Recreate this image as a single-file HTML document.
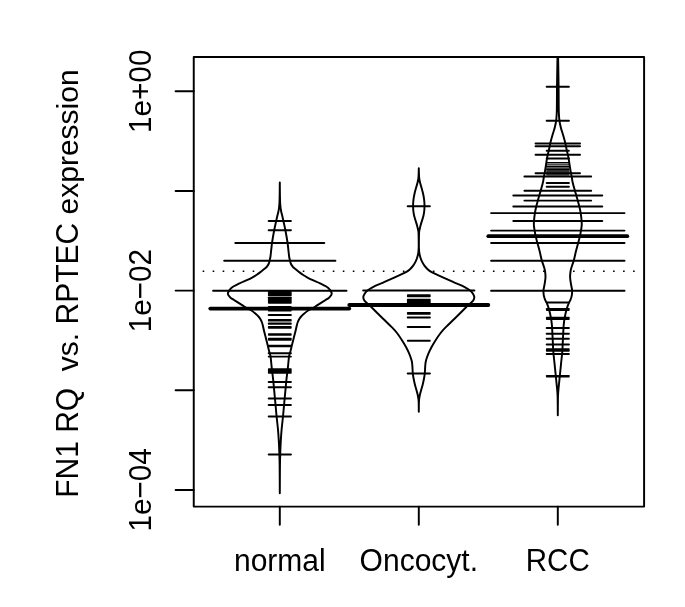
<!DOCTYPE html>
<html><head><meta charset="utf-8"><title>beanplot</title>
<style>html,body{margin:0;padding:0;background:#fff}svg{display:block;will-change:transform}</style></head>
<body>
<svg width="685" height="607" viewBox="0 0 685 607">
<rect width="685" height="607" fill="#fff"/>
<defs><clipPath id="c"><rect x="193.75" y="56.90" width="450.35" height="449.70"/></clipPath></defs>
<g clip-path="url(#c)" stroke="#000" fill="none" stroke-linecap="round" stroke-linejoin="round">
<line x1="202.65" y1="271.2" x2="636" y2="271.2" stroke-width="1.6" stroke-dasharray="1.6 8.41" stroke-linecap="butt"/>
<path d="M279.80 182.40 C279.82 184.50 279.86 191.57 279.92 195.00 C279.98 198.43 280.04 200.83 280.15 203.00 C280.26 205.17 280.41 206.50 280.60 208.00 C280.79 209.50 281.02 210.67 281.30 212.00 C281.58 213.33 281.95 214.52 282.30 216.00 C282.65 217.48 282.87 218.45 283.40 220.90 C283.93 223.35 284.82 227.12 285.50 230.70 C286.18 234.28 286.98 238.85 287.50 242.40 C288.02 245.95 288.32 249.57 288.60 252.00 C288.88 254.43 288.97 255.58 289.20 257.00 C289.43 258.42 289.73 259.42 290.00 260.50 C290.27 261.58 290.40 262.55 290.80 263.50 C291.20 264.45 291.85 265.45 292.40 266.20 C292.95 266.95 293.00 267.05 294.10 268.00 C295.20 268.95 297.48 270.73 299.00 271.90 C300.52 273.07 301.78 274.05 303.20 275.00 C304.62 275.95 305.90 276.73 307.50 277.60 C309.10 278.47 310.70 279.23 312.80 280.20 C314.90 281.17 317.52 282.12 320.10 283.40 C322.68 284.68 326.38 286.32 328.30 287.90 C330.22 289.48 331.17 291.62 331.60 292.90 C332.03 294.18 331.37 294.77 330.90 295.60 C330.43 296.43 329.75 297.13 328.80 297.90 C327.85 298.67 326.43 299.42 325.20 300.20 C323.97 300.98 322.77 301.73 321.40 302.60 C320.03 303.47 318.45 304.47 317.00 305.40 C315.55 306.33 314.12 307.38 312.70 308.20 C311.28 309.02 310.05 309.28 308.50 310.30 C306.95 311.32 304.70 313.18 303.40 314.30 C302.10 315.42 301.43 316.13 300.70 317.00 C299.97 317.87 299.48 318.67 299.00 319.50 C298.52 320.33 298.15 321.10 297.80 322.00 C297.45 322.90 297.27 323.45 296.90 324.90 C296.53 326.35 296.07 328.75 295.60 330.70 C295.13 332.65 294.60 334.65 294.10 336.60 C293.60 338.55 293.08 340.47 292.60 342.40 C292.12 344.33 291.68 346.27 291.20 348.20 C290.72 350.13 290.07 352.58 289.70 354.00 C289.33 355.42 289.32 354.30 289.00 356.70 C288.68 359.10 288.23 364.52 287.80 368.40 C287.37 372.28 286.82 376.12 286.40 380.00 C285.98 383.88 285.67 387.80 285.30 391.70 C284.93 395.60 284.58 399.27 284.20 403.40 C283.82 407.53 283.43 412.13 283.00 416.50 C282.57 420.87 281.96 425.68 281.60 429.60 C281.24 433.52 281.07 436.27 280.85 440.00 C280.63 443.73 280.45 447.67 280.30 452.00 C280.15 456.33 280.03 459.13 279.95 466.00 C279.87 472.87 279.82 488.67 279.80 493.20 L279.80 493.20 C279.78 488.67 279.73 472.87 279.65 466.00 C279.57 459.13 279.45 456.33 279.30 452.00 C279.15 447.67 278.97 443.73 278.75 440.00 C278.53 436.27 278.36 433.52 278.00 429.60 C277.64 425.68 277.03 420.87 276.60 416.50 C276.17 412.13 275.78 407.53 275.40 403.40 C275.02 399.27 274.67 395.60 274.30 391.70 C273.93 387.80 273.62 383.88 273.20 380.00 C272.78 376.12 272.23 372.28 271.80 368.40 C271.37 364.52 270.92 359.10 270.60 356.70 C270.28 354.30 270.27 355.42 269.90 354.00 C269.53 352.58 268.88 350.13 268.40 348.20 C267.92 346.27 267.48 344.33 267.00 342.40 C266.52 340.47 266.00 338.55 265.50 336.60 C265.00 334.65 264.47 332.65 264.00 330.70 C263.53 328.75 263.07 326.35 262.70 324.90 C262.33 323.45 262.15 322.90 261.80 322.00 C261.45 321.10 261.08 320.33 260.60 319.50 C260.12 318.67 259.63 317.87 258.90 317.00 C258.17 316.13 257.50 315.42 256.20 314.30 C254.90 313.18 252.65 311.32 251.10 310.30 C249.55 309.28 248.32 309.02 246.90 308.20 C245.48 307.38 244.05 306.33 242.60 305.40 C241.15 304.47 239.57 303.47 238.20 302.60 C236.83 301.73 235.63 300.98 234.40 300.20 C233.17 299.42 231.75 298.67 230.80 297.90 C229.85 297.13 229.17 296.43 228.70 295.60 C228.23 294.77 227.57 294.18 228.00 292.90 C228.43 291.62 229.38 289.48 231.30 287.90 C233.22 286.32 236.92 284.68 239.50 283.40 C242.08 282.12 244.70 281.17 246.80 280.20 C248.90 279.23 250.50 278.47 252.10 277.60 C253.70 276.73 254.98 275.95 256.40 275.00 C257.82 274.05 259.08 273.07 260.60 271.90 C262.12 270.73 264.40 268.95 265.50 268.00 C266.60 267.05 266.65 266.95 267.20 266.20 C267.75 265.45 268.40 264.45 268.80 263.50 C269.20 262.55 269.33 261.58 269.60 260.50 C269.87 259.42 270.17 258.42 270.40 257.00 C270.63 255.58 270.72 254.43 271.00 252.00 C271.28 249.57 271.58 245.95 272.10 242.40 C272.62 238.85 273.42 234.28 274.10 230.70 C274.78 227.12 275.67 223.35 276.20 220.90 C276.73 218.45 276.95 217.48 277.30 216.00 C277.65 214.52 278.02 213.33 278.30 212.00 C278.58 210.67 278.81 209.50 279.00 208.00 C279.19 206.50 279.34 205.17 279.45 203.00 C279.56 200.83 279.62 198.43 279.68 195.00 C279.74 191.57 279.78 184.50 279.80 182.40 Z" fill="#fff" stroke-width="1.95"/>
<line x1="268.68" y1="220.90" x2="290.92" y2="220.90" stroke-width="1.95"/>
<line x1="268.68" y1="230.30" x2="290.92" y2="230.30" stroke-width="1.95"/>
<line x1="235.32" y1="243.00" x2="324.28" y2="243.00" stroke-width="1.95"/>
<line x1="224.20" y1="260.70" x2="335.40" y2="260.70" stroke-width="1.95"/>
<line x1="213.08" y1="290.75" x2="346.52" y2="290.75" stroke-width="1.95"/>
<rect x="267.93" y="291.10" width="23.74" height="5.10" rx="0.7" fill="#000" stroke="none"/>
<rect x="267.93" y="296.65" width="23.74" height="7.10" rx="0.7" fill="#000" stroke="none"/>
<rect x="267.93" y="306.10" width="23.74" height="5.40" rx="0.7" fill="#000" stroke="none"/>
<line x1="268.68" y1="315.00" x2="290.92" y2="315.00" stroke-width="1.95"/>
<rect x="267.93" y="319.10" width="23.74" height="2.50" rx="0.7" fill="#000" stroke="none"/>
<rect x="267.93" y="322.55" width="23.74" height="2.30" rx="0.7" fill="#000" stroke="none"/>
<rect x="267.93" y="326.10" width="23.74" height="2.70" rx="0.7" fill="#000" stroke="none"/>
<rect x="267.93" y="333.35" width="23.74" height="2.40" rx="0.7" fill="#000" stroke="none"/>
<rect x="267.93" y="337.85" width="23.74" height="2.90" rx="0.7" fill="#000" stroke="none"/>
<rect x="267.93" y="344.70" width="23.74" height="2.60" rx="0.7" fill="#000" stroke="none"/>
<line x1="268.68" y1="353.20" x2="290.92" y2="353.20" stroke-width="1.95"/>
<line x1="268.68" y1="356.60" x2="290.92" y2="356.60" stroke-width="1.95"/>
<rect x="267.93" y="368.20" width="23.74" height="5.60" rx="0.7" fill="#000" stroke="none"/>
<line x1="268.68" y1="382.00" x2="290.92" y2="382.00" stroke-width="1.95"/>
<line x1="268.68" y1="387.20" x2="290.92" y2="387.20" stroke-width="1.95"/>
<line x1="268.68" y1="398.50" x2="290.92" y2="398.50" stroke-width="1.95"/>
<line x1="268.68" y1="405.00" x2="290.92" y2="405.00" stroke-width="1.95"/>
<line x1="268.68" y1="416.50" x2="290.92" y2="416.50" stroke-width="1.95"/>
<line x1="268.68" y1="454.40" x2="290.92" y2="454.40" stroke-width="1.95"/>
<line x1="210.30" y1="308.60" x2="349.30" y2="308.60" stroke-width="3.8"/>
<path d="M418.80 168.20 C418.82 169.17 418.87 172.20 418.95 174.00 C419.03 175.80 419.07 177.42 419.30 179.00 C419.53 180.58 419.92 182.00 420.30 183.50 C420.68 185.00 421.18 186.50 421.60 188.00 C422.02 189.50 422.43 190.93 422.80 192.50 C423.17 194.07 423.54 195.82 423.80 197.40 C424.06 198.98 424.23 200.52 424.35 202.00 C424.47 203.48 424.52 204.80 424.50 206.30 C424.48 207.80 424.43 209.38 424.25 211.00 C424.07 212.62 423.77 214.42 423.40 216.00 C423.03 217.58 422.53 218.93 422.05 220.50 C421.57 222.07 420.94 223.98 420.55 225.40 C420.16 226.82 419.94 227.82 419.70 229.00 C419.46 230.18 419.23 230.67 419.10 232.50 C418.97 234.33 418.95 237.42 418.92 240.00 C418.89 242.58 418.84 245.77 418.92 248.00 C419.00 250.23 419.15 251.82 419.40 253.40 C419.65 254.98 419.98 256.17 420.40 257.50 C420.82 258.83 421.23 260.05 421.90 261.40 C422.57 262.75 423.45 264.30 424.40 265.60 C425.35 266.90 426.47 268.17 427.60 269.20 C428.73 270.23 429.73 270.93 431.20 271.80 C432.67 272.67 433.88 273.23 436.40 274.40 C438.92 275.57 443.20 277.40 446.30 278.80 C449.40 280.20 452.32 281.63 455.00 282.80 C457.68 283.97 459.93 284.55 462.40 285.80 C464.87 287.05 468.02 288.93 469.80 290.30 C471.58 291.67 472.35 292.78 473.10 294.00 C473.85 295.22 474.32 296.45 474.30 297.60 C474.28 298.75 473.92 299.73 473.00 300.90 C472.08 302.07 470.95 302.53 468.80 304.60 C466.65 306.67 462.67 310.77 460.10 313.30 C457.53 315.83 455.73 317.53 453.40 319.80 C451.07 322.07 448.23 324.70 446.10 326.90 C443.97 329.10 442.40 330.70 440.60 333.00 C438.80 335.30 436.80 338.37 435.30 340.70 C433.80 343.03 432.72 344.92 431.60 347.00 C430.48 349.08 429.50 351.07 428.60 353.20 C427.70 355.33 426.73 358.00 426.20 359.80 C425.67 361.60 425.59 362.47 425.40 364.00 C425.21 365.53 425.15 367.43 425.05 369.00 C424.95 370.57 424.96 371.90 424.80 373.40 C424.64 374.90 424.42 376.28 424.10 378.00 C423.78 379.72 423.32 381.95 422.90 383.70 C422.48 385.45 422.05 386.85 421.60 388.50 C421.15 390.15 420.58 392.02 420.20 393.60 C419.82 395.18 419.51 396.60 419.30 398.00 C419.09 399.40 419.00 399.70 418.92 402.00 C418.84 404.30 418.82 410.17 418.80 411.80 L418.80 411.80 C418.78 410.17 418.76 404.30 418.68 402.00 C418.60 399.70 418.51 399.40 418.30 398.00 C418.09 396.60 417.78 395.18 417.40 393.60 C417.02 392.02 416.45 390.15 416.00 388.50 C415.55 386.85 415.12 385.45 414.70 383.70 C414.28 381.95 413.82 379.72 413.50 378.00 C413.18 376.28 412.96 374.90 412.80 373.40 C412.64 371.90 412.65 370.57 412.55 369.00 C412.45 367.43 412.39 365.53 412.20 364.00 C412.01 362.47 411.93 361.60 411.40 359.80 C410.87 358.00 409.90 355.33 409.00 353.20 C408.10 351.07 407.12 349.08 406.00 347.00 C404.88 344.92 403.80 343.03 402.30 340.70 C400.80 338.37 398.80 335.30 397.00 333.00 C395.20 330.70 393.63 329.10 391.50 326.90 C389.37 324.70 386.53 322.07 384.20 319.80 C381.87 317.53 380.07 315.83 377.50 313.30 C374.93 310.77 370.95 306.67 368.80 304.60 C366.65 302.53 365.52 302.07 364.60 300.90 C363.68 299.73 363.32 298.75 363.30 297.60 C363.28 296.45 363.75 295.22 364.50 294.00 C365.25 292.78 366.02 291.67 367.80 290.30 C369.58 288.93 372.73 287.05 375.20 285.80 C377.67 284.55 379.92 283.97 382.60 282.80 C385.28 281.63 388.20 280.20 391.30 278.80 C394.40 277.40 398.68 275.57 401.20 274.40 C403.72 273.23 404.93 272.67 406.40 271.80 C407.87 270.93 408.87 270.23 410.00 269.20 C411.13 268.17 412.25 266.90 413.20 265.60 C414.15 264.30 415.03 262.75 415.70 261.40 C416.37 260.05 416.78 258.83 417.20 257.50 C417.62 256.17 417.95 254.98 418.20 253.40 C418.45 251.82 418.60 250.23 418.68 248.00 C418.76 245.77 418.71 242.58 418.68 240.00 C418.65 237.42 418.63 234.33 418.50 232.50 C418.37 230.67 418.14 230.18 417.90 229.00 C417.66 227.82 417.44 226.82 417.05 225.40 C416.66 223.98 416.03 222.07 415.55 220.50 C415.07 218.93 414.57 217.58 414.20 216.00 C413.83 214.42 413.53 212.62 413.35 211.00 C413.17 209.38 413.12 207.80 413.10 206.30 C413.08 204.80 413.13 203.48 413.25 202.00 C413.37 200.52 413.54 198.98 413.80 197.40 C414.06 195.82 414.43 194.07 414.80 192.50 C415.17 190.93 415.58 189.50 416.00 188.00 C416.42 186.50 416.92 185.00 417.30 183.50 C417.68 182.00 418.07 180.58 418.30 179.00 C418.53 177.42 418.57 175.80 418.65 174.00 C418.73 172.20 418.78 169.17 418.80 168.20 Z" fill="#fff" stroke-width="1.95"/>
<line x1="407.68" y1="206.30" x2="429.92" y2="206.30" stroke-width="1.95"/>
<line x1="363.20" y1="290.55" x2="474.40" y2="290.55" stroke-width="1.95"/>
<rect x="406.93" y="294.20" width="23.74" height="3.00" rx="0.7" fill="#000" stroke="none"/>
<rect x="406.93" y="298.85" width="23.74" height="5.70" rx="0.7" fill="#000" stroke="none"/>
<rect x="406.93" y="312.00" width="23.74" height="2.80" rx="0.7" fill="#000" stroke="none"/>
<line x1="407.68" y1="317.50" x2="429.92" y2="317.50" stroke-width="1.95"/>
<line x1="407.68" y1="326.90" x2="429.92" y2="326.90" stroke-width="1.95"/>
<rect x="406.93" y="339.70" width="23.74" height="2.00" rx="0.7" fill="#000" stroke="none"/>
<line x1="407.68" y1="373.40" x2="429.92" y2="373.40" stroke-width="1.95"/>
<line x1="349.30" y1="305.00" x2="488.30" y2="305.00" stroke-width="3.8"/>
<path d="M557.80 45.00 C557.85 47.00 557.97 50.05 558.10 57.00 C558.23 63.95 558.50 78.70 558.60 86.70 C558.70 94.70 558.66 100.62 558.70 105.00 C558.74 109.38 558.72 110.37 558.85 113.00 C558.97 115.63 559.14 118.47 559.45 120.80 C559.76 123.13 560.26 125.17 560.70 127.00 C561.14 128.83 561.70 130.47 562.10 131.80 C562.50 133.13 562.55 133.07 563.10 135.00 C563.65 136.93 564.92 141.45 565.40 143.40 C565.88 145.35 565.58 144.75 566.00 146.70 C566.42 148.65 567.47 153.15 567.90 155.10 C568.33 157.05 568.27 156.45 568.60 158.40 C568.93 160.35 569.60 164.87 569.90 166.80 C570.20 168.73 570.05 168.05 570.40 170.00 C570.75 171.95 571.65 176.55 572.00 178.50 C572.35 180.45 572.05 179.78 572.50 181.70 C572.95 183.62 574.17 188.05 574.70 190.00 C575.23 191.95 575.45 192.57 575.70 193.40 C575.95 194.23 575.85 193.77 576.20 195.00 C576.55 196.23 577.27 198.85 577.80 200.80 C578.33 202.75 578.92 204.65 579.40 206.70 C579.88 208.75 580.33 210.73 580.70 213.10 C581.07 215.47 581.43 218.85 581.60 220.90 C581.77 222.95 581.80 223.82 581.70 225.40 C581.60 226.98 581.28 228.65 581.00 230.40 C580.72 232.15 580.47 233.82 580.00 235.90 C579.53 237.98 578.87 240.37 578.20 242.90 C577.53 245.43 576.52 249.08 576.00 251.10 C575.48 253.12 575.47 253.43 575.10 255.00 C574.73 256.57 574.37 258.55 573.80 260.50 C573.23 262.45 572.23 264.95 571.70 266.70 C571.17 268.45 570.87 269.25 570.60 271.00 C570.33 272.75 570.03 275.00 570.10 277.20 C570.17 279.40 570.67 282.00 571.00 284.20 C571.33 286.40 571.98 288.45 572.10 290.40 C572.22 292.35 571.98 294.30 571.70 295.90 C571.42 297.50 570.87 298.83 570.40 300.00 C569.93 301.17 569.53 301.35 568.90 302.90 C568.27 304.45 567.32 306.73 566.60 309.30 C565.88 311.87 565.08 315.68 564.60 318.30 C564.12 320.92 563.90 323.12 563.70 325.00 C563.50 326.88 563.53 327.18 563.40 329.60 C563.27 332.02 563.08 335.87 562.90 339.50 C562.72 343.13 562.60 347.45 562.30 351.40 C562.00 355.35 561.52 359.10 561.10 363.20 C560.68 367.30 560.13 372.70 559.80 376.00 C559.47 379.30 559.32 380.85 559.10 383.00 C558.88 385.15 558.67 387.07 558.50 388.90 C558.33 390.73 558.20 392.15 558.10 394.00 C558.00 395.85 557.97 396.47 557.92 400.00 C557.87 403.53 557.82 412.67 557.80 415.20 L557.80 415.20 C557.78 412.67 557.73 403.53 557.68 400.00 C557.63 396.47 557.60 395.85 557.50 394.00 C557.40 392.15 557.27 390.73 557.10 388.90 C556.93 387.07 556.72 385.15 556.50 383.00 C556.28 380.85 556.13 379.30 555.80 376.00 C555.47 372.70 554.92 367.30 554.50 363.20 C554.08 359.10 553.60 355.35 553.30 351.40 C553.00 347.45 552.88 343.13 552.70 339.50 C552.52 335.87 552.33 332.02 552.20 329.60 C552.07 327.18 552.10 326.88 551.90 325.00 C551.70 323.12 551.48 320.92 551.00 318.30 C550.52 315.68 549.72 311.87 549.00 309.30 C548.28 306.73 547.33 304.45 546.70 302.90 C546.07 301.35 545.67 301.17 545.20 300.00 C544.73 298.83 544.18 297.50 543.90 295.90 C543.62 294.30 543.38 292.35 543.50 290.40 C543.62 288.45 544.27 286.40 544.60 284.20 C544.93 282.00 545.43 279.40 545.50 277.20 C545.57 275.00 545.27 272.75 545.00 271.00 C544.73 269.25 544.43 268.45 543.90 266.70 C543.37 264.95 542.37 262.45 541.80 260.50 C541.23 258.55 540.87 256.57 540.50 255.00 C540.13 253.43 540.12 253.12 539.60 251.10 C539.08 249.08 538.07 245.43 537.40 242.90 C536.73 240.37 536.07 237.98 535.60 235.90 C535.13 233.82 534.88 232.15 534.60 230.40 C534.32 228.65 534.00 226.98 533.90 225.40 C533.80 223.82 533.83 222.95 534.00 220.90 C534.17 218.85 534.53 215.47 534.90 213.10 C535.27 210.73 535.72 208.75 536.20 206.70 C536.68 204.65 537.27 202.75 537.80 200.80 C538.33 198.85 539.05 196.23 539.40 195.00 C539.75 193.77 539.65 194.23 539.90 193.40 C540.15 192.57 540.37 191.95 540.90 190.00 C541.43 188.05 542.65 183.62 543.10 181.70 C543.55 179.78 543.25 180.45 543.60 178.50 C543.95 176.55 544.85 171.95 545.20 170.00 C545.55 168.05 545.40 168.73 545.70 166.80 C546.00 164.87 546.67 160.35 547.00 158.40 C547.33 156.45 547.27 157.05 547.70 155.10 C548.13 153.15 549.18 148.65 549.60 146.70 C550.02 144.75 549.72 145.35 550.20 143.40 C550.68 141.45 551.95 136.93 552.50 135.00 C553.05 133.07 553.10 133.13 553.50 131.80 C553.90 130.47 554.46 128.83 554.90 127.00 C555.34 125.17 555.84 123.13 556.15 120.80 C556.46 118.47 556.62 115.63 556.75 113.00 C556.88 110.37 556.86 109.38 556.90 105.00 C556.94 100.62 556.90 94.70 557.00 86.70 C557.10 78.70 557.37 63.95 557.50 57.00 C557.63 50.05 557.75 47.00 557.80 45.00 Z" fill="#fff" stroke-width="1.95"/>
<line x1="546.68" y1="86.70" x2="568.92" y2="86.70" stroke-width="1.95"/>
<line x1="546.68" y1="120.80" x2="568.92" y2="120.80" stroke-width="1.95"/>
<line x1="535.56" y1="143.40" x2="580.04" y2="143.40" stroke-width="1.95"/>
<line x1="535.56" y1="146.20" x2="580.04" y2="146.20" stroke-width="1.95"/>
<line x1="546.68" y1="150.80" x2="568.92" y2="150.80" stroke-width="1.95"/>
<line x1="535.56" y1="154.70" x2="580.04" y2="154.70" stroke-width="1.95"/>
<line x1="546.68" y1="158.50" x2="568.92" y2="158.50" stroke-width="1.95"/>
<line x1="546.68" y1="162.80" x2="568.92" y2="162.80" stroke-width="1.60"/>
<line x1="546.68" y1="164.80" x2="568.92" y2="164.80" stroke-width="1.00"/>
<line x1="546.68" y1="166.50" x2="568.92" y2="166.50" stroke-width="1.60"/>
<line x1="546.68" y1="168.00" x2="568.92" y2="168.00" stroke-width="1.00"/>
<line x1="546.68" y1="169.30" x2="568.92" y2="169.30" stroke-width="1.60"/>
<line x1="546.68" y1="170.70" x2="568.92" y2="170.70" stroke-width="1.00"/>
<line x1="546.68" y1="172.10" x2="568.92" y2="172.10" stroke-width="1.50"/>
<line x1="535.56" y1="173.20" x2="580.04" y2="173.20" stroke-width="1.95"/>
<line x1="546.68" y1="174.80" x2="568.92" y2="174.80" stroke-width="1.20"/>
<line x1="524.44" y1="176.40" x2="591.16" y2="176.40" stroke-width="1.95"/>
<line x1="546.68" y1="182.90" x2="568.92" y2="182.90" stroke-width="1.95"/>
<line x1="546.68" y1="186.70" x2="568.92" y2="186.70" stroke-width="1.95"/>
<line x1="524.44" y1="190.70" x2="591.16" y2="190.70" stroke-width="1.95"/>
<line x1="513.32" y1="195.50" x2="602.28" y2="195.50" stroke-width="1.95"/>
<line x1="524.44" y1="200.60" x2="591.16" y2="200.60" stroke-width="1.95"/>
<line x1="513.32" y1="206.40" x2="602.28" y2="206.40" stroke-width="1.95"/>
<line x1="491.08" y1="213.10" x2="624.52" y2="213.10" stroke-width="1.95"/>
<line x1="513.32" y1="221.00" x2="602.28" y2="221.00" stroke-width="1.95"/>
<line x1="491.08" y1="230.60" x2="624.52" y2="230.60" stroke-width="1.95"/>
<line x1="491.08" y1="243.05" x2="624.52" y2="243.05" stroke-width="1.95"/>
<line x1="491.08" y1="260.75" x2="624.52" y2="260.75" stroke-width="1.95"/>
<line x1="491.08" y1="290.70" x2="624.52" y2="290.70" stroke-width="1.95"/>
<line x1="546.68" y1="302.50" x2="568.92" y2="302.50" stroke-width="1.95"/>
<rect x="545.93" y="307.90" width="23.74" height="3.00" rx="0.7" fill="#000" stroke="none"/>
<rect x="545.93" y="316.70" width="23.74" height="3.20" rx="0.7" fill="#000" stroke="none"/>
<line x1="546.68" y1="327.90" x2="568.92" y2="327.90" stroke-width="1.95"/>
<line x1="546.68" y1="333.80" x2="568.92" y2="333.80" stroke-width="1.95"/>
<line x1="546.68" y1="338.80" x2="568.92" y2="338.80" stroke-width="1.95"/>
<line x1="546.68" y1="344.40" x2="568.92" y2="344.40" stroke-width="1.95"/>
<rect x="545.93" y="348.20" width="23.74" height="3.50" rx="0.7" fill="#000" stroke="none"/>
<line x1="546.68" y1="353.90" x2="568.92" y2="353.90" stroke-width="1.95"/>
<rect x="545.93" y="374.90" width="23.74" height="2.60" rx="0.7" fill="#000" stroke="none"/>
<line x1="488.30" y1="236.20" x2="627.30" y2="236.20" stroke-width="3.8"/>
</g>
<g stroke="#000" fill="none" stroke-width="1.95" stroke-linecap="round" stroke-linejoin="round">
<rect x="193.75" y="56.90" width="450.35" height="449.70"/>
<line x1="193.75" y1="91.30" x2="175.60" y2="91.30"/>
<line x1="193.75" y1="190.95" x2="175.60" y2="190.95"/>
<line x1="193.75" y1="290.60" x2="175.60" y2="290.60"/>
<line x1="193.75" y1="390.25" x2="175.60" y2="390.25"/>
<line x1="193.75" y1="489.90" x2="175.60" y2="489.90"/>
<line x1="279.80" y1="506.60" x2="279.80" y2="524.80"/>
<line x1="418.80" y1="506.60" x2="418.80" y2="524.80"/>
<line x1="557.80" y1="506.60" x2="557.80" y2="524.80"/>
</g>
<g font-family="'Liberation Sans', sans-serif" font-size="30px" fill="#000" text-anchor="start">
<text transform="translate(279.80 571.30) rotate(0) translate(-45.85 0) scale(1.0000 1.0200)" style="white-space:pre">normal</text>
<text transform="translate(418.80 571.30) rotate(0) translate(-59.19 0) scale(1.0000 1.0750)" style="white-space:pre">O</text>
<text transform="translate(418.80 571.30) rotate(0) translate(-35.85 0) scale(1.0000 1.0200)" style="white-space:pre">ncocyt.</text>
<text transform="translate(557.80 571.30) rotate(0) translate(-32.01 0) scale(0.9850 1.0750)" style="white-space:pre">RCC</text>
<text transform="translate(150.70 91.30) rotate(-90) translate(-41.71 0) scale(0.9900 1.0750)" style="white-space:pre">1</text>
<text transform="translate(150.70 91.30) rotate(-90) translate(-25.19 0) scale(0.9900 1.0000)" style="white-space:pre">e</text>
<text transform="translate(150.70 91.30) rotate(-90) translate(-8.67 0) scale(0.9900 1.0750)" style="white-space:pre">+00</text>
<text transform="translate(150.70 290.60) rotate(-90) translate(-41.71 0) scale(0.9900 1.0750)" style="white-space:pre">1</text>
<text transform="translate(150.70 290.60) rotate(-90) translate(-25.19 0) scale(0.9900 1.0000)" style="white-space:pre">e</text>
<text transform="translate(150.70 290.60) rotate(-90) translate(-8.67 0) scale(0.9900 1.0750)" style="white-space:pre">−02</text>
<text transform="translate(150.70 489.90) rotate(-90) translate(-41.71 0) scale(0.9900 1.0750)" style="white-space:pre">1</text>
<text transform="translate(150.70 489.90) rotate(-90) translate(-25.19 0) scale(0.9900 1.0000)" style="white-space:pre">e</text>
<text transform="translate(150.70 489.90) rotate(-90) translate(-8.67 0) scale(0.9900 1.0750)" style="white-space:pre">−04</text>
<text transform="translate(77.60 283.60) rotate(-90) translate(-214.22 0) scale(1.0000 1.0750)" style="white-space:pre">FN1 RQ  </text>
<text transform="translate(77.60 283.60) rotate(-90) translate(-87.54 0) scale(1.0000 1.0000)" style="white-space:pre">vs. </text>
<text transform="translate(77.60 283.60) rotate(-90) translate(-40.87 0) scale(1.0000 1.0750)" style="white-space:pre">RPTEC </text>
<text transform="translate(77.60 283.60) rotate(-90) translate(69.14 0) scale(1.0000 1.0000)" style="white-space:pre">expression</text>
</g>
</svg>
</body></html>
